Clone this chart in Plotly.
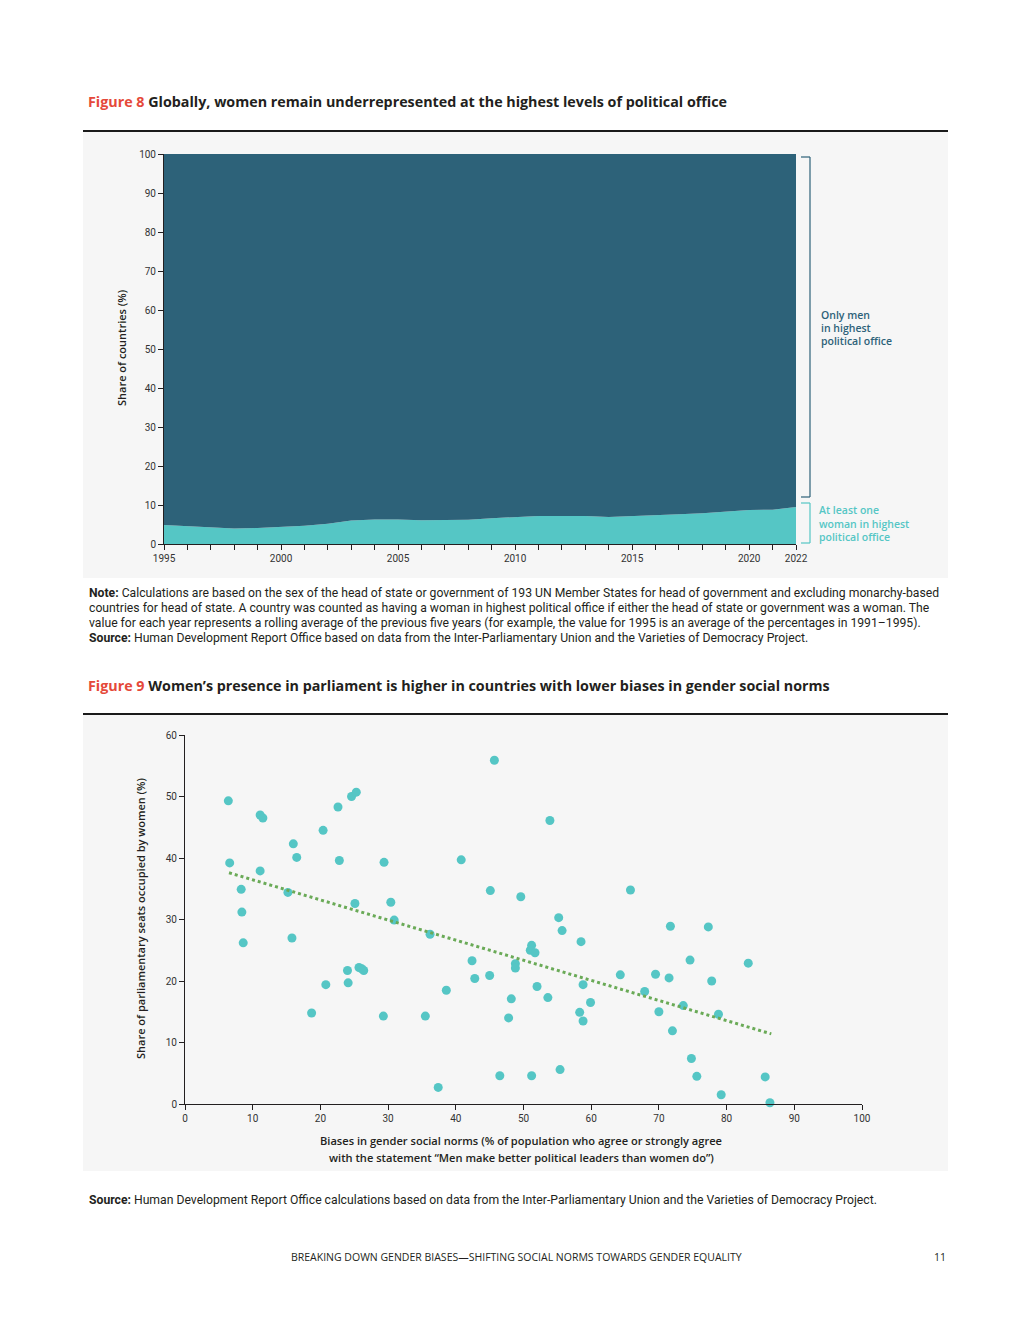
import plotly.graph_objects as go

W, H = 1020, 1320

# ---------------- Figure 8 data ----------------
years = list(range(1995, 2023))
women_share = [4.9, 4.6, 4.4, 4.0, 4.1, 4.4, 4.7, 5.2, 6.0, 6.3, 6.3, 6.1, 6.2, 6.2,
               6.6, 6.9, 7.2, 7.2, 7.2, 6.9, 7.1, 7.3, 7.6, 7.9, 8.3, 8.7, 8.8, 9.5]
men_share = [95.1, 95.4, 95.6, 96.0, 95.9, 95.6, 95.3, 94.8, 94.0, 93.7, 93.7, 93.9, 93.8, 93.8,
             93.4, 93.1, 92.8, 92.8, 92.8, 93.1, 92.9, 92.7, 92.4, 92.1, 91.7, 91.3, 91.2, 90.5]
year_tick_vals = years
year_tick_text = [str(y) if y in (1995, 2000, 2005, 2010, 2015, 2020, 2022) else "" for y in years]

# ---------------- Figure 9 data ----------------
bias = [6.4, 6.6, 8.3, 8.4, 11.1, 11.5, 11.1, 16.0, 16.5, 15.2, 20.4, 22.6, 22.8, 24.6, 25.3,
        25.1, 29.4, 30.4, 30.9, 8.6, 15.8, 18.7, 20.8, 24.0, 24.1, 25.7, 26.1, 26.4, 29.3,
        45.7, 53.9, 40.8, 45.1, 49.6, 65.8, 55.2, 55.7, 58.5, 36.2, 51.2, 51.0, 51.7, 42.4,
        48.8, 48.8, 42.8, 45.0, 64.3, 69.5, 58.8, 52.0, 38.6, 48.2, 53.6, 59.9, 67.9, 58.3,
        58.8, 70.0, 35.5, 47.8, 46.5, 51.2, 55.4, 37.4, 71.7, 77.3, 74.6, 83.2, 71.5, 77.8,
        73.6, 78.8, 72.0, 74.8, 75.6, 85.7, 79.2, 86.4]
seats = [49.3, 39.2, 34.9, 31.2, 47.0, 46.5, 37.9, 42.3, 40.1, 34.4, 44.5, 48.3, 39.6, 50.0, 50.7,
         32.6, 39.3, 32.8, 29.9, 26.2, 27.0, 14.8, 19.4, 21.7, 19.7, 22.2, 22.0, 21.7, 14.3,
         55.9, 46.1, 39.7, 34.7, 33.7, 34.8, 30.3, 28.2, 26.4, 27.6, 25.8, 25.0, 24.6, 23.3,
         22.8, 22.1, 20.4, 20.9, 21.0, 21.1, 19.4, 19.1, 18.5, 17.1, 17.3, 16.5, 18.3, 14.9,
         13.5, 15.0, 14.3, 14.0, 4.6, 4.6, 5.6, 2.7, 28.9, 28.8, 23.4, 22.9, 20.5, 20.0,
         16.0, 14.6, 11.9, 7.4, 4.5, 4.4, 1.5, 0.2]
trend_x = [6.5, 86.6]
trend_y = [37.6, 11.4]

# ---------------- styling ----------------
DARK = "#2d6279"
TEAL = "#55c6c5"
RED = "#e5493a"
INK = "#231f20"
PANEL = "#f6f6f6"
NARROW = "Roboto, sans-serif"
HEAD = "Open Sans, sans-serif"

# the page body adds an 8px margin around the figure; compensate so that
# positions below are in page pixels
OX, OY = 8, 8


def px(x):
    return (x - OX) / W


def py(y):
    return 1 - (y - OY) / H


fig = go.Figure()

fig.add_trace(go.Scatter(x=years, y=women_share, stackgroup="a", mode="lines",
                         line=dict(width=0, color=TEAL), fillcolor=TEAL,
                         name="At least one woman", xaxis="x", yaxis="y",
                         hoverinfo="x+y"))
fig.add_trace(go.Scatter(x=years, y=men_share, stackgroup="a", mode="lines",
                         line=dict(width=0, color=DARK), fillcolor=DARK,
                         name="Only men", xaxis="x", yaxis="y", hoverinfo="x+y"))

fig.add_trace(go.Scatter(x=bias, y=seats, mode="markers", cliponaxis=False,
                         marker=dict(size=9, color=TEAL), xaxis="x2", yaxis="y2",
                         name="Countries"))
fig.add_trace(go.Scatter(x=trend_x, y=trend_y, mode="lines",
                         line=dict(color="#6aaa57", width=3, dash="dot"),
                         xaxis="x2", yaxis="y2", name="Trend"))

axis_common = dict(showgrid=False, zeroline=False, showline=True, linecolor="#231f20",
                   linewidth=1, ticks="outside", ticklen=5, tickcolor="#231f20",
                   automargin=False,
                   tickfont=dict(family=NARROW, size=10, color="#333333"), fixedrange=True)

fig.update_layout(
    width=W, height=H, showlegend=False, autosize=False,
    paper_bgcolor="white", plot_bgcolor=PANEL,
    margin=dict(l=0, r=0, t=0, b=0, pad=0, autoexpand=False),
    xaxis=dict(domain=[px(164), px(796)], range=[1995, 2022], anchor="y",
               tickvals=year_tick_vals, ticktext=year_tick_text, **axis_common),
    yaxis=dict(domain=[py(544), py(154)], range=[0, 100], anchor="x",
               tickvals=list(range(0, 101, 10)), **axis_common),
    xaxis2=dict(domain=[px(185), px(862)], range=[0, 100], anchor="y2",
                tickvals=list(range(0, 101, 10)), **axis_common),
    yaxis2=dict(domain=[py(1104), py(735)], range=[0, 60], anchor="x2",
                tickvals=list(range(0, 61, 10)), **axis_common),
)

shapes = []
# grey panels
shapes.append(dict(type="rect", xref="paper", yref="paper", x0=px(83), x1=px(948),
                   y0=py(578), y1=py(132), fillcolor=PANEL, line=dict(width=0), layer="below"))
shapes.append(dict(type="rect", xref="paper", yref="paper", x0=px(83), x1=px(948),
                   y0=py(1171), y1=py(715), fillcolor=PANEL, line=dict(width=0), layer="below"))
# black rules
for yy in (131, 714):
    shapes.append(dict(type="line", xref="paper", yref="paper", x0=px(83), x1=px(948),
                       y0=py(yy), y1=py(yy), line=dict(color="#1a1a1a", width=2)))


def bracket(y0, y1, color):
    return [
        dict(type="line", xref="paper", yref="paper", x0=px(801), x1=px(810),
             y0=py(y0), y1=py(y0), line=dict(color=color, width=1.2)),
        dict(type="line", xref="paper", yref="paper", x0=px(810), x1=px(810),
             y0=py(y0), y1=py(y1), line=dict(color=color, width=1.2)),
        dict(type="line", xref="paper", yref="paper", x0=px(801), x1=px(810),
             y0=py(y1), y1=py(y1), line=dict(color=color, width=1.2)),
    ]


shapes += bracket(157, 497, DARK)
shapes += bracket(503, 543, TEAL)
fig.update_layout(shapes=shapes)

ann = []


def text(x, y, s, size=11, color=INK, family=HEAD, xanchor="left", yanchor="middle",
         angle=0, align="left", weight="normal"):
    ann.append(dict(x=px(x), y=py(y), xref="paper", yref="paper", text=s, showarrow=False,
                    xanchor=xanchor, yanchor=yanchor, textangle=angle, align=align,
                    font=dict(family=family, size=size, color=color, weight=weight)))


text(86, 102, f"<span style='color:{RED}'>Figure 8</span> Globally, women remain underrepresented at the highest levels of political office",
     size=14.3, weight="bold")
text(86, 685, f"<span style='color:{RED}'>Figure 9</span> Women’s presence in parliament is higher in countries with lower biases in gender social norms",
     size=14.3, weight="bold")

text(121, 348, "Share of countries (%)", size=11, angle=-90, xanchor="center", yanchor="middle",
     weight=600)
text(140, 918, "Share of parliamentary seats occupied by women (%)", size=11, angle=-90,
     xanchor="center", yanchor="middle", weight=600)

for i, s in enumerate(["Only men", "in highest", "political office"]):
    text(819, 315 + 13 * i, s, size=10.5, color=DARK, weight=600)
for i, s in enumerate(["At least one", "woman in highest", "political office"]):
    text(817, 510 + 13.5 * i, s, size=10.5, color=TEAL, weight=600)

text(521, 1140, "Biases in gender social norms (% of population who agree or strongly agree",
     size=11.1, xanchor="center", weight=600)
text(521, 1157, "with the statement “Men make better political leaders than women do”)",
     size=11.1, xanchor="center", weight=600)

note_lines = [
    "<b>Note:</b> Calculations are based on the sex of the head of state or government of 193 UN Member States for head of government and excluding monarchy-based",
    "countries for head of state. A country was counted as having a woman in highest political office if either the head of state or government was a woman. The",
    "value for each year represents a rolling average of the previous five years (for example, the value for 1995 is an average of the percentages in 1991–1995).",
    "<b>Source:</b> Human Development Report Office based on data from the Inter-Parliamentary Union and the Varieties of Democracy Project.",
]
for i, line in enumerate(note_lines):
    text(87, 593 + 15 * i, line, size=12.2, family=NARROW)

text(87, 1200, "<b>Source:</b> Human Development Report Office calculations based on data from the Inter-Parliamentary Union and the Varieties of Democracy Project.",
     size=12.2, family=NARROW)

text(516, 1257, "BREAKING DOWN GENDER BIASES—SHIFTING SOCIAL NORMS TOWARDS GENDER EQUALITY",
     size=10.5, xanchor="center")
text(948, 1257, "11", size=10.5, xanchor="right")

fig.update_layout(annotations=ann)

fig.write_html("out.html")
